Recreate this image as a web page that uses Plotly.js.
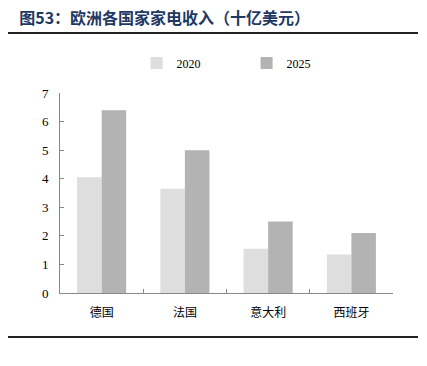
<!DOCTYPE html>
<html>
<head>
<meta charset="utf-8">
<script src="https://cdn.plot.ly/plotly-3.0.1.min.js"></script>
<style>html,body{margin:0;padding:0;background:#fff;}#chart{width:427px;height:366px;}</style>
</head>
<body>
<div id="chart"></div>
<script>
const categories = ['德国', '法国', '意大利', '西班牙'];
const values2020 = [4.05, 3.65, 1.55, 1.35];
const values2025 = [6.4, 5.0, 2.5, 2.1];
const seriesNames = ['2020', '2025'];
const yTicks = [0, 1, 2, 3, 4, 5, 6, 7];

const data = [
  {type: 'bar', name: seriesNames[0], x: categories, y: values2020, marker: {color: '#dedede'}},
  {type: 'bar', name: seriesNames[1], x: categories, y: values2025, marker: {color: '#b3b3b3'}}
];

const layout = {
  width: 427, height: 366,
  margin: {l: 60, r: 34, t: 93, b: 73, pad: 0},
  paper_bgcolor: '#fff', plot_bgcolor: '#fff',
  barmode: 'group', bargap: 0.41, bargroupgap: 0,
  showlegend: true,
  legend: {orientation: 'h', x: 0.23, y: 1.15, xanchor: 'left', yanchor: 'middle',
    entrywidth: 65, entrywidthmode: 'pixels', itemwidth: 30,
    font: {family: 'Liberation Serif, serif', size: 12, color: '#000'}},
  xaxis: {
    type: 'category', showline: true, linecolor: '#888', linewidth: 1,
    ticks: 'inside', ticklen: 4, tickcolor: '#888', tickson: 'boundaries',
    showgrid: false, zeroline: false, ticklabelstandoff: 9,
    tickfont: {family: 'Noto Sans CJK SC, sans-serif', size: 12, color: '#000'}
  },
  yaxis: {
    range: [0, 7], tickvals: yTicks, showline: true, linecolor: '#888', linewidth: 1,
    ticks: 'inside', ticklen: 4, tickcolor: '#888', showgrid: false, zeroline: false,
    ticklabelstandoff: 8,
    tickfont: {family: 'Liberation Serif, serif', size: 13, color: '#000'}
  },
  title: {text: '<b>图53：欧洲各国家家电收入（十亿美元）</b>', x: 0.045, xanchor: 'left', y: 0.95, yanchor: 'middle',
    font: {family: 'Noto Sans CJK SC, sans-serif', size: 16, color: '#1f3864'}},
  shapes: [
    {type: 'line', xref: 'paper', yref: 'paper', x0: (8-60)/333, x1: (418-60)/333, y0: (293-33)/200, y1: (293-33)/200, line: {color: '#222', width: 2}},
    {type: 'line', xref: 'paper', yref: 'paper', x0: (8-60)/333, x1: (418-60)/333, y0: (293-337)/200, y1: (293-337)/200, line: {color: '#222', width: 2}}
  ]
};

Plotly.newPlot('chart', data, layout, {displayModeBar: false, staticPlot: true});
</script>
</body>
</html>
